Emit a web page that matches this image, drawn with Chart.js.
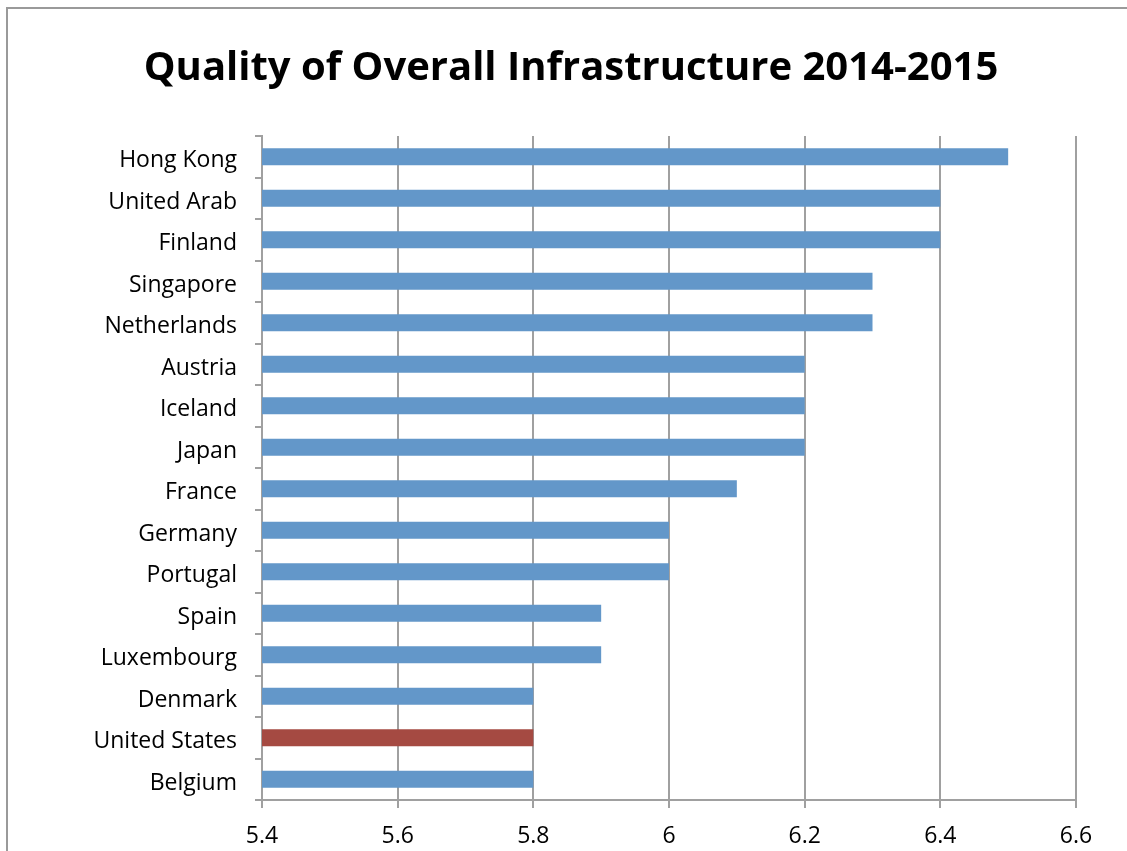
<!DOCTYPE html>
<html>
<head>
<meta charset="utf-8">
<script src="https://cdn.jsdelivr.net/npm/chart.js@4"></script>
<style>
  html, body { margin: 0; padding: 0; background: #fff; overflow: hidden; }
  #wrap { position: relative; width: 1127px; height: 851px; }
  #frame { position: absolute; left: 6px; top: 7px; width: 1140px; height: 900px; border: 2px solid #9a9a9a; box-sizing: border-box; }
  canvas { position: absolute; left: 0; top: 0; }
</style>
</head>
<body>
<div id="wrap">
  <div id="frame"></div>
  <canvas id="chart" width="1127" height="851"></canvas>
</div>
<script>
// Quality of overall infrastructure scores
const countries = ['Hong Kong', 'United Arab', 'Finland', 'Singapore', 'Netherlands', 'Austria', 'Iceland', 'Japan',
    'France', 'Germany', 'Portugal', 'Spain', 'Luxembourg', 'Denmark', 'United States', 'Belgium'];
const scores = [6.5, 6.4, 6.4, 6.3, 6.3, 6.2, 6.2, 6.2, 6.1, 6.0, 6.0, 5.9, 5.9, 5.8, 5.8, 5.8];
const xTicks = [5.4, 5.6, 5.8, 6.0, 6.2, 6.4, 6.6];

const blue = '#6397c9';
const red = '#a54a42';
const barColors = countries.map(c => c === 'United States' ? red : blue);

const ctx = document.getElementById('chart');

new Chart(ctx, {
    type: 'bar',
    data: {
        labels: countries,
        datasets: [{
            data: scores,
            backgroundColor: barColors,
            borderWidth: 0,
            barPercentage: 0.82,
            categoryPercentage: 0.5
        }]
    },
    options: {
        indexAxis: 'y',
        responsive: false,
        animation: false,
        // left padding pushes the title centre to match the original
        layout: { padding: { left: 66, right: 51, top: 0, bottom: 0 } },
        plugins: {
            legend: { display: false },
            tooltip: { enabled: false },
            title: {
                display: true,
                text: 'Quality of Overall Infrastructure 2014-2015',
                color: '#000',
                font: { family: 'Open Sans', size: 40, weight: 'bold', lineHeight: 1.2 },
                padding: { top: 45, bottom: 43 }
            }
        },
        scales: {
            x: {
                min: xTicks[0],
                max: xTicks[xTicks.length - 1],
                afterBuildTicks: function(scale) {
                    scale.ticks = xTicks.map(v => ({ value: v }));
                },
                afterFit: function(scale) { scale.height = 51; },
                grid: {
                    color: '#a0a0a0',
                    lineWidth: 2,
                    tickLength: 8,
                    drawTicks: true
                },
                border: { color: '#a0a0a0', width: 2 },
                ticks: {
                    color: '#000',
                    font: { family: 'Open Sans', size: 23 },
                    padding: 15,
                    callback: function(value) { return parseFloat(Number(value).toFixed(1)); }
                }
            },
            y: {
                afterFit: function(scale) { scale.width = 196; },
                grid: {
                    display: true,
                    drawOnChartArea: false,
                    color: '#a0a0a0',
                    lineWidth: 2,
                    tickLength: 7
                },
                border: { color: '#a0a0a0', width: 2 },
                ticks: {
                    color: '#000',
                    font: { family: 'Open Sans', size: 23 },
                    padding: 18,
                    labelOffset: 4
                }
            }
        }
    }
});
</script>
</body>
</html>
